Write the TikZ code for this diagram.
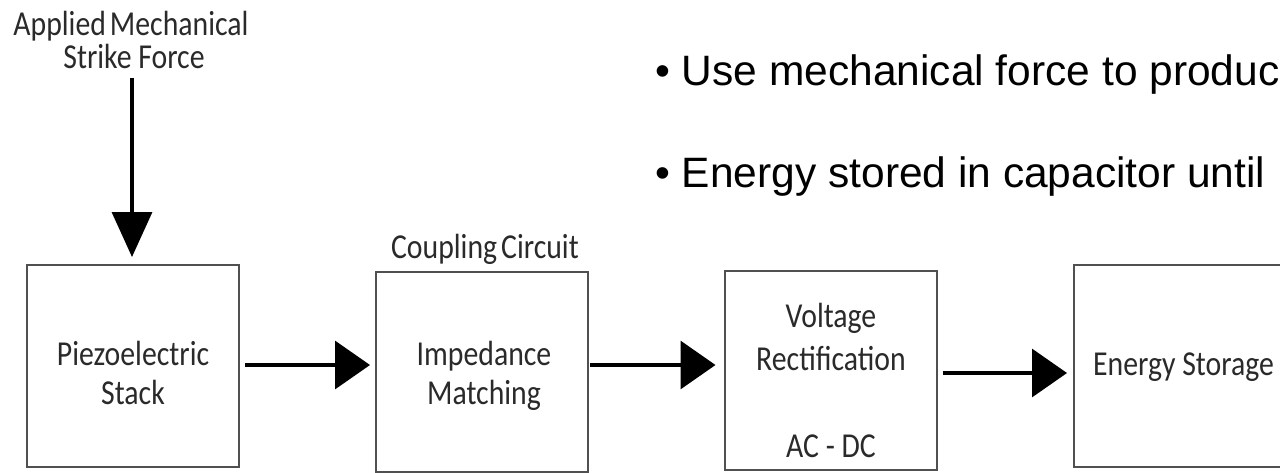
\documentclass[tikz,border=0pt]{standalone}
\usepackage{fontspec}
\usetikzlibrary{arrows.meta}
\newfontfamily\boxfont[FakeStretch=0.85]{Carlito}
\newfontfamily\bulfont{Liberation Sans}
\definecolor{boxtext}{HTML}{2A2A2A}
\definecolor{boxline}{HTML}{505050}
\newcommand\tightsp{\spaceskip=4pt\relax}
\tikzset{
  blockbox/.style={draw=boxline, line width=2pt, minimum width=212pt, inner sep=0pt, outer sep=0pt},
  cal/.style={font=\boxfont\fontsize{35}{40}\selectfont, text=boxtext, inner sep=0pt, anchor=base},
  tightcal/.style={cal, execute at begin node=\tightsp},
  bul/.style={font=\bulfont\fontsize{42.5}{48}\selectfont, text=black, inner sep=0pt, anchor=base west},
  flowarrow/.style={line width=3.3pt, -{Triangle[length=35pt,width=48pt]}},
  downarrow/.style={line width=3.3pt, -{Triangle[length=45pt,width=40pt]}}
}
\begin{document}
\begin{tikzpicture}[x=1pt,y=-1pt]
\useasboundingbox (0,0) rectangle (1280,472);
\clip (0,0) rectangle (1280,472);
\fill[white] (0,0) rectangle (1280,472);

% boxes
\node[blockbox, minimum height=202pt] (piezo) at (133,366) {};
\node[blockbox, minimum height=200pt] (imp) at (482,372) {};
\node[blockbox, minimum height=199pt] (volt) at (830.5,370.5) {};
\node[blockbox, minimum height=202pt] (store) at (1180,366) {};

% top labels
\node[tightcal] (applied) at (131,35) {Applied Mechanical};
\node[cal] (strike) at (134,68) {Strike Force};
\node[tightcal] (coupling) at (485,258) {Coupling Circuit};

% box texts
\node[cal] (piezoA) at (133,365) {Piezoelectric};
\node[cal] (piezoB) at (133,404) {Stack};
\node[cal] (impA) at (484,365) {Impedance};
\node[cal] (impB) at (484,404) {Matching};
\node[cal] (voltA) at (831,327) {Voltage};
\node[cal] (voltB) at (831,370) {Rectification};
\node[cal] (voltC) at (831,457) {AC - DC};
\node[cal, anchor=base west] (storeA) at (1093,375) {Energy Storage};

% bullets
\node[bul] (bulA) at (655,85) {• Use mechanical force to produc};
\node[bul] (bulB) at (655,187) {• Energy stored in capacitor until};

% arrows
\coordinate (forceTop) at (132,78);
\coordinate (r1) at (0,365);
\coordinate (r3) at (0,373);
\draw[downarrow, shorten >=8pt] (forceTop) -- (forceTop |- piezo.north);
\draw[flowarrow, shorten <=6pt, shorten >=6pt] (piezo.east |- r1) -- (imp.west |- r1);
\draw[flowarrow, shorten <=2pt, shorten >=9pt] (imp.east |- r1) -- (volt.west |- r1);
\draw[flowarrow, shorten <=6pt, shorten >=7pt] (volt.east |- r3) -- (store.west |- r3);
\end{tikzpicture}
\end{document}
